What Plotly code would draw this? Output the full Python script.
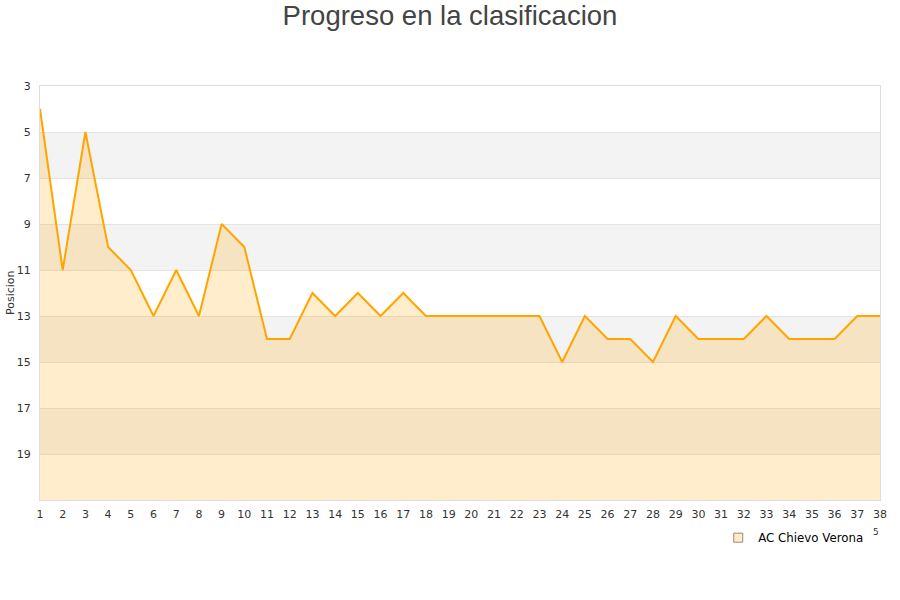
import plotly.graph_objects as go

jornadas = list(range(1, 39))
posicion = [4, 11, 5, 10, 11, 13, 11, 13, 9, 10, 14, 14, 12, 13, 12, 13, 12, 13, 13, 13,
            13, 13, 13, 15, 13, 14, 14, 15, 13, 14, 14, 14, 13, 14, 14, 14, 13, 13]
equipo = "AC Chievo Verona"
y_ticks = [3, 5, 7, 9, 11, 13, 15, 17, 19]
band_starts = [5, 9, 13, 17]

fig = go.Figure()

# baseline for the area fill
fig.add_trace(go.Scatter(x=jornadas, y=[21] * len(jornadas), mode="lines",
                         line=dict(width=0), showlegend=False, hoverinfo="skip"))
fig.add_trace(go.Scatter(x=jornadas, y=posicion, mode="lines", fill="tonexty",
                         fillcolor="rgba(255,165,0,0.2)",
                         line=dict(color="#FFA500", width=2),
                         showlegend=False, name=equipo))
# legend entry
fig.add_trace(go.Scatter(x=[None], y=[None], mode="markers", name=equipo,
                         marker=dict(symbol="square", size=9, color="#FFEBC8",
                                     line=dict(color="#9a8a70", width=1))))

shapes = []
for s in band_starts:
    shapes.append(dict(type="rect", xref="paper", yref="y", x0=0, x1=1, y0=s, y1=s + 2,
                       fillcolor="#f3f3f3", line=dict(width=0), layer="below"))
fig.update_layout(shapes=shapes)

fig.add_annotation(text="5", xref="paper", yref="paper", x=(876 - 40) / 840, y=-32 / 414,
                   xanchor="center", yanchor="middle",
                   showarrow=False, font=dict(size=9, color="#333333"))
fig.add_annotation(text="Posicion", xref="paper", yref="paper", x=(10 - 40) / 840,
                   y=(500 - 293) / 414, textangle=-90, showarrow=False,
                   xanchor="center", yanchor="middle",
                   font=dict(size=11, color="#333333"))

fig.update_layout(
    width=900, height=600,
    margin=dict(l=40, r=20, t=86, b=100),
    paper_bgcolor="white", plot_bgcolor="white",
    title=dict(text="Progreso en la clasificacion", x=0.5, xanchor="center",
               y=1 - 15 / 600, yanchor="middle",
               font=dict(family="Liberation Sans, Arial", size=27.5, color="#444444")),
    font=dict(family="DejaVu Sans", size=11, color="#333333"),
    xaxis=dict(range=[1, 38], tickmode="array", tickvals=jornadas,
               showgrid=False, zeroline=False, showline=True, linecolor="#dddddd",
               mirror=True, ticks="", ticklabelstandoff=4,
               tickfont=dict(size=11, color="#333333")),
    yaxis=dict(range=[21, 3], tickmode="array", tickvals=y_ticks,
               showgrid=True, gridcolor="#e3e3e3", gridwidth=1, zeroline=False,
               showline=True, linecolor="#dddddd", mirror=True, ticks="",
               ticklabelstandoff=6,
               tickfont=dict(size=11, color="#333333"),
               automargin=False),
    legend=dict(orientation="h", x=0.986, xanchor="right", y=-0.056, yanchor="top",
                itemwidth=30,
                font=dict(size=11.8, color="#000000"), bgcolor="rgba(0,0,0,0)"),
    showlegend=True,
)

fig.write_html("out.html", config={"displayModeBar": False},
               post_script="document.body.style.margin='0';document.body.style.padding='0';")
